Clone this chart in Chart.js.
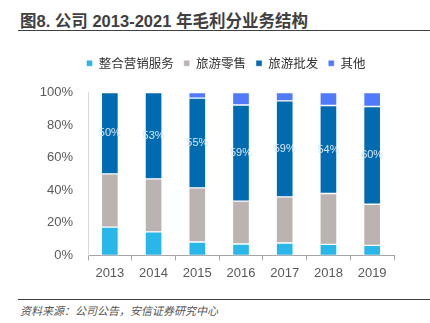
<!DOCTYPE html>
<html>
<head>
<meta charset="utf-8">
<script src="https://cdn.jsdelivr.net/npm/chart.js@4"></script>
<style>
  body { margin: 0; background: #fff; }
  #wrap { position: relative; width: 430px; height: 323px; overflow: hidden; }
  #title {
    position: absolute; left: 20px; top: 8px;
    font: bold 16.5px "Liberation Sans", "Noto Sans CJK SC", sans-serif;
    color: #404040; white-space: nowrap;
  }
  #topline { position: absolute; left: 18px; right: 0; top: 30px; height: 1px; border-top: 1.5px solid #404040; }
  #chartbox { position: absolute; left: 0; top: 40px; width: 430px; height: 248px; }
  #botline { position: absolute; left: 18px; right: 0; top: 299px; border-top: 1px solid #404040; }
  #source {
    position: absolute; left: 20px; top: 302px;
    font: italic 11px "Noto Sans CJK SC", sans-serif; color: #555;
  }
</style>
</head>
<body>
<div id="wrap">
  <div id="title">图8. 公司 2013-2021 年毛利分业务结构</div>
  <div id="topline"></div>
  <div id="chartbox"><canvas id="chart" width="430" height="248"></canvas></div>
  <div id="botline"></div>
  <div id="source">资料来源：公司公告，安信证券研究中心</div>
</div>
<script>
// years and business share of gross profit (%)
const years = ['2013', '2014', '2015', '2016', '2017', '2018', '2019'];
const marketing = [17.4, 14.4, 8.2, 7.0, 7.6, 6.8, 6.2];
const retail = [32.6, 32.6, 33.3, 26.3, 28.3, 31.2, 25.2];
const wholesale = [50, 53, 55, 59, 59, 54, 60];
const others = [0, 0, 3.5, 7.7, 5.1, 8, 8.6];
const yTicks = [0, 20, 40, 60, 80, 100];

// draw the wholesale share inside its segment
const segLabels = {
    id: 'segLabels',
    afterDatasetsDraw(chart) {
        const ctx = chart.ctx;
        const meta = chart.getDatasetMeta(2);
        ctx.save();
        ctx.font = '11px "Liberation Sans", Arial, sans-serif';
        ctx.fillStyle = '#d6e6f5';
        ctx.textAlign = 'center';
        ctx.textBaseline = 'middle';
        meta.data.forEach((bar, i) => {
            const mid = (bar.y + bar.base) / 2;
            ctx.fillText(Math.round(wholesale[i]) + '%', bar.x, mid);
        });
        ctx.restore();
    }
};

// more room under the legend, and nudge it right like the source
const legendTweak = {
    id: 'legendTweak',
    beforeInit(chart) {
        const fit = chart.legend.fit;
        chart.legend.fit = function () {
            fit.bind(chart.legend)();
            this.height += 13;
        };
    },
    afterLayout(chart) {
        chart.legend.left += 18;
        chart.legend.right += 18;
    }
};

const ctx = document.getElementById('chart').getContext('2d');
new Chart(ctx, {
    type: 'bar',
    data: {
        labels: years,
        datasets: [
            { label: '整合营销服务', data: marketing, backgroundColor: '#29b7e9' },
            { label: '旅游零售', data: retail, backgroundColor: '#bab3b1' },
            { label: '旅游批发', data: wholesale, backgroundColor: '#006bb0' },
            { label: '其他', data: others, backgroundColor: '#5079fb' }
        ].map(d => Object.assign(d, {
            borderColor: 'rgba(255,255,255,0.45)',
            borderWidth: 1,
            borderSkipped: false,
            barThickness: 17
        }))
    },
    options: {
        responsive: false,
        animation: false,
        layout: { padding: { left: 22, right: 36, top: 7, bottom: 2 } },
        plugins: {
            legend: {
                position: 'top',
                labels: {
                    boxWidth: 6, boxHeight: 6, padding: 10,
                    color: '#333',
                    font: { size: 12.5, family: '"Noto Sans CJK SC", sans-serif' }
                }
            },
            tooltip: { enabled: false }
        },
        scales: {
            x: {
                stacked: true,
                grid: { offset: true, drawOnChartArea: false, drawTicks: true, tickLength: 5, color: '#a6a6a6' },
                border: { color: '#a6a6a6' },
                ticks: { color: '#595959', padding: 5, font: { size: 13, family: '"Liberation Sans", Arial, sans-serif' } }
            },
            y: {
                stacked: true,
                min: 0, max: 100,
                afterBuildTicks(scale) { scale.ticks = yTicks.map(v => ({ value: v })); },
                afterFit(scale) { scale.width = 66; },
                grid: { display: false },
                border: { color: '#d9d9d9' },
                ticks: {
                    color: '#595959', padding: 7,
                    font: { size: 13, family: '"Liberation Sans", Arial, sans-serif' },
                    callback: v => v + '%'
                }
            }
        }
    },
    plugins: [segLabels, legendTweak]
});
</script>
</body>
</html>
